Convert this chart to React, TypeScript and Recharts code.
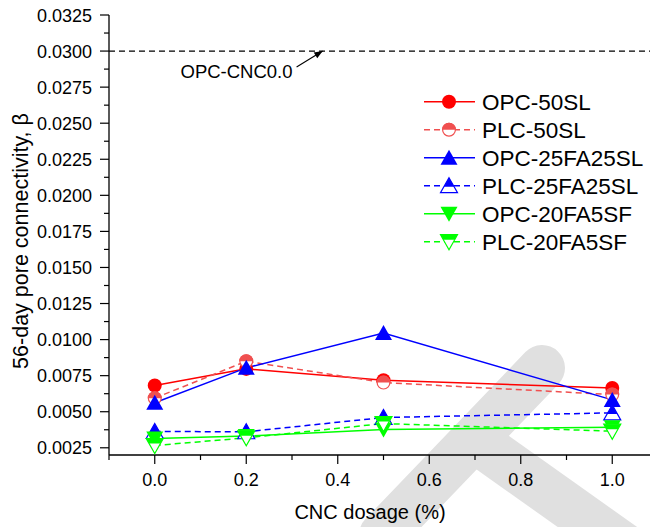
import React from "react";
import { Legend, Line, LineChart, ReferenceLine, XAxis, YAxis } from "recharts";

// CNC dosage (%)
const dosage = [0, 0.2, 0.5, 1.0];

// 56-day pore connectivity per mix
const opc50SL = [0.00682, 0.00797, 0.00718, 0.00665];
const plc50SL = [0.00594, 0.0085, 0.00702, 0.00619];
const opc25FA25SL = [0.00562, 0.00804, 0.01045, 0.00582];
const plc25FA25SL = [0.00363, 0.00361, 0.0046, 0.00492];
const opc20FA5SF = [0.00315, 0.00331, 0.00377, 0.00393];
const plc20FA5SF = [0.00266, 0.00319, 0.00418, 0.00365];

// reference level of the plain mix
const opcCnc0 = 0.03;

const xMajor = [0, 0.2, 0.4, 0.6, 0.8, 1.0];
const xMinor = [-0.1, 0.1, 0.3, 0.5, 0.7, 0.9, 1.1];
const yMajor = [
  0.0025, 0.005, 0.0075, 0.01, 0.0125, 0.015, 0.0175, 0.02, 0.0225, 0.025,
  0.0275, 0.03, 0.0325,
];

const FONT = '"Liberation Sans", Arial, Helvetica, sans-serif';

type Kind = "circle" | "up" | "down";
type SeriesDef = {
  key: string;
  name: string;
  color: string;
  kind: Kind;
  half: boolean;
  dashed: boolean;
  values: number[];
};

const SERIES: SeriesDef[] = [
  { key: "opc50SL", name: "OPC-50SL", color: "#ff0000", kind: "circle", half: false, dashed: false, values: opc50SL },
  { key: "plc50SL", name: "PLC-50SL", color: "#f05050", kind: "circle", half: true, dashed: true, values: plc50SL },
  { key: "opc25FA25SL", name: "OPC-25FA25SL", color: "#0000ff", kind: "up", half: false, dashed: false, values: opc25FA25SL },
  { key: "plc25FA25SL", name: "PLC-25FA25SL", color: "#0000ff", kind: "up", half: true, dashed: true, values: plc25FA25SL },
  { key: "opc20FA5SF", name: "OPC-20FA5SF", color: "#00ff00", kind: "down", half: false, dashed: false, values: opc20FA5SF },
  { key: "plc20FA5SF", name: "PLC-20FA5SF", color: "#00ff00", kind: "down", half: true, dashed: true, values: plc20FA5SF },
];

const data = dosage.map((x, i) => {
  const row: Record<string, number> = { x };
  SERIES.forEach((s) => {
    row[s.key] = s.values[i];
  });
  return row;
});

const xTicks = [...xMajor, ...xMinor].sort((a, b) => a - b);
const yMinor = yMajor.slice(1).map((v, i) => (v + yMajor[i]) / 2);
const yTicks = [...yMajor, ...yMinor].sort((a, b) => a - b);

const isMajor = (list: number[], v: number) => list.some((m) => Math.abs(m - v) < 1e-9);

function Marker({ cx, cy, color, kind, half }: { cx: number; cy: number; color: string; kind: Kind; half: boolean }) {
  if (cx == null || cy == null) return null;
  if (kind === "circle") {
    const r = 7;
    if (!half) return <circle cx={cx} cy={cy} r={r} fill={color} />;
    return (
      <g>
        <circle cx={cx} cy={cy} r={r - 0.6} fill="#fff" stroke={color} strokeWidth={1.2} />
        <path d={`M${cx - r},${cy} A${r},${r} 0 0 1 ${cx + r},${cy} Z`} fill={color} />
      </g>
    );
  }
  const w = 8.5;
  if (kind === "up") {
    const top = cy - 8;
    const bot = cy + 7;
    const tri = `M${cx},${top} L${cx + w},${bot} L${cx - w},${bot} Z`;
    if (!half) return <path d={tri} fill={color} />;
    const cut = top + 9;
    const hw = (w * 9) / 15;
    return (
      <g>
        <path d={tri} fill="#fff" stroke={color} strokeWidth={1.2} />
        <path d={`M${cx},${top} L${cx + hw},${cut} L${cx - hw},${cut} Z`} fill={color} />
      </g>
    );
  }
  const top = cy - 7;
  const bot = cy + 8;
  const tri = `M${cx - w},${top} L${cx + w},${top} L${cx},${bot} Z`;
  if (!half) return <path d={tri} fill={color} />;
  const cut = top + 5;
  const hw = (w * 10) / 15;
  return (
    <g>
      <path d={tri} fill="#fff" stroke={color} strokeWidth={1.2} />
      <path d={`M${cx - w},${top} L${cx + w},${top} L${cx + hw},${cut} L${cx - hw},${cut} Z`} fill={color} />
    </g>
  );
}

function XTick(props: any) {
  const { x, y, payload } = props;
  const major = isMajor(xMajor, payload.value);
  return (
    <g>
      <line x1={x} y1={y} x2={x} y2={y + (major ? 9 : 5)} stroke="#000" strokeWidth={1.2} />
      {major && (
        <text x={x} y={y + 31} textAnchor="middle" fontSize={18} fontFamily={FONT} fill="#000">
          {payload.value.toFixed(1)}
        </text>
      )}
    </g>
  );
}

function YTick(props: any) {
  const { x, y, payload } = props;
  const major = isMajor(yMajor, payload.value);
  return (
    <g>
      <line x1={x - (major ? 9 : 5)} y1={y} x2={x} y2={y} stroke="#000" strokeWidth={1.2} />
      {major && (
        <text x={x - 17} y={y + 6.5} textAnchor="end" fontSize={18} fontFamily={FONT} fill="#000">
          {payload.value.toFixed(4)}
        </text>
      )}
    </g>
  );
}

function XTitle(props: any) {
  const vb = props.viewBox;
  return (
    <text x={vb.x + vb.width / 2 - 13.5} y={vb.y + 64} textAnchor="middle" fontSize={20} fontFamily={FONT} fill="#000">
      CNC dosage (%)
    </text>
  );
}

function YTitle(props: any) {
  const vb = props.viewBox;
  const cx = vb.x + 28;
  const cy = vb.y + vb.height / 2 + 6;
  return (
    <text x={cx} y={cy} transform={`rotate(-90 ${cx} ${cy})`} textAnchor="middle" fontSize={21.5} fontFamily={FONT} fill="#000">
      56-day pore connectivity, β
    </text>
  );
}

// arrow pointing from the note up to the dashed reference level
function ArrowNote(props: any) {
  const { x1, y1, x2, y2 } = props;
  const ang = Math.atan2(y2 - y1, x2 - x1);
  const len = 9;
  const spread = 0.38;
  const ax = x2 - len * Math.cos(ang - spread);
  const ay = y2 - len * Math.sin(ang - spread);
  const bx = x2 - len * Math.cos(ang + spread);
  const by = y2 - len * Math.sin(ang + spread);
  return (
    <g>
      <line x1={x1} y1={y1} x2={x2} y2={y2} stroke="#000" strokeWidth={1.1} />
      <path d={`M${x2},${y2} L${ax},${ay} L${bx},${by} Z`} fill="#000" />
      <text x={x1 - 4} y={y1 + 11} textAnchor="end" fontSize={18.5} fontFamily={FONT} fill="#000">
        OPC-CNC0.0
      </text>
    </g>
  );
}

function LegendBox() {
  return (
    <svg width={240} height={175} style={{ display: "block" }}>
      {SERIES.map((s, i) => {
        const y = 16.7 + i * 28;
        return (
          <g key={s.key}>
            <line
              x1={6}
              y1={y}
              x2={57}
              y2={y}
              stroke={s.color}
              strokeWidth={1.5}
              strokeDasharray={s.dashed ? "6 4" : undefined}
            />
            <Marker cx={31} cy={y} color={s.color} kind={s.kind} half={s.half} />
            <text x={64} y={y + 8} fontSize={22.5} fontFamily={FONT} fill="#000">
              {s.name}
            </text>
          </g>
        );
      })}
    </svg>
  );
}

function Watermark() {
  return (
    <svg width={650} height={527} style={{ position: "absolute", left: 0, top: 0 }}>
      <line x1={542} y1={368} x2={382} y2={535} stroke="#e0e0e0" strokeWidth={46} strokeLinecap="round" />
      <line x1={472} y1={438} x2={627} y2={548} stroke="#e0e0e0" strokeWidth={46} />
    </svg>
  );
}

export default function App() {
  return (
    <div
      style={{
        position: "fixed",
        left: 0,
        top: 0,
        width: 650,
        height: 527,
        overflow: "hidden",
        background: "#fff",
      }}
    >
      <Watermark />
      <div style={{ position: "absolute", left: 0, top: 0 }}>
        <LineChart width={668} height={527} data={data} margin={{ top: 15, right: 10, left: 0, bottom: 0 }}>
          <XAxis
            type="number"
            dataKey="x"
            domain={[-0.1, 1.1]}
            ticks={xTicks}
            interval={0}
            allowDataOverflow
            height={72}
            tickSize={0}
            tickMargin={0}
            tick={<XTick />}
            axisLine={{ stroke: "#000", strokeWidth: 1.3 }}
            label={<XTitle />}
          />
          <YAxis
            type="number"
            domain={[0.002, 0.0325]}
            ticks={yTicks}
            interval={0}
            allowDataOverflow
            width={109}
            tickSize={0}
            tickMargin={0}
            tick={<YTick />}
            axisLine={{ stroke: "#000", strokeWidth: 1.3 }}
            label={<YTitle />}
          />
          <ReferenceLine y={opcCnc0} stroke="#000" strokeWidth={1.2} strokeDasharray="6 4" />
          <ReferenceLine
            segment={[
              { x: 0.31, y: 0.0289 },
              { x: 0.367, y: opcCnc0 },
            ]}
            shape={<ArrowNote />}
          />
          {SERIES.map((s) => (
            <Line
              key={s.key}
              type="linear"
              dataKey={s.key}
              name={s.name}
              stroke={s.color}
              strokeWidth={1.5}
              strokeDasharray={s.dashed ? "6 4" : undefined}
              dot={(p: any) => (
                <Marker key={`${s.key}-${p.index}`} cx={p.cx} cy={p.cy} color={s.color} kind={s.kind} half={s.half} />
              )}
              activeDot={false}
              isAnimationActive={false}
            />
          ))}
          <Legend
            layout="vertical"
            align="center"
            verticalAlign="middle"
            content={() => <LegendBox />}
            wrapperStyle={{ left: 418, top: 85, width: 240, height: 175 }}
          />
        </LineChart>
      </div>
    </div>
  );
}
